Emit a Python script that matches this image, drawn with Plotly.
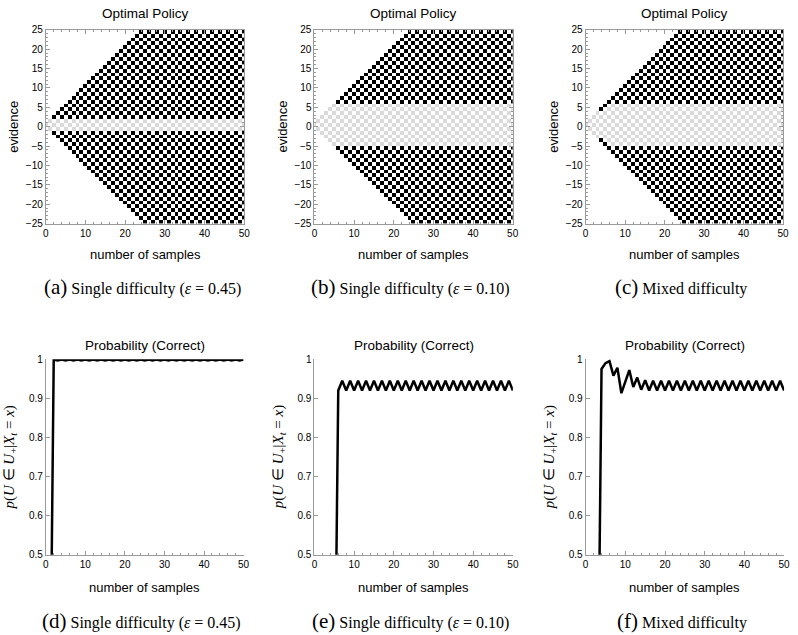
"""Optimal policy and probability correct (six panels)"""
import plotly.graph_objects as go

# policy grid: time steps and evidence levels
samples = list(range(0, 51))
evidence = list(range(-25, 25))

# stopping threshold per time step (|evidence| >= thr -> decide)
thr_a = [2] * 51
thr_b = [6] * 51
thr_c = [99, 99, 99, 99, 4, 5] + [6] * 45

# probability correct at the boundary
t_d = list(range(1, 51))
p_d = [0.0,
       0.999, 0.997, 0.999, 0.997, 0.999, 0.997, 0.999, 0.997, 0.999, 0.997,
       0.999, 0.997, 0.999, 0.997, 0.999, 0.997, 0.999, 0.997, 0.999, 0.997,
       0.999, 0.997, 0.999, 0.997, 0.999, 0.997, 0.999, 0.997, 0.999, 0.997,
       0.999, 0.997, 0.999, 0.997, 0.999, 0.997, 0.999, 0.997, 0.999, 0.997,
       0.999, 0.997, 0.999, 0.997, 0.999, 0.997, 0.999, 0.997, 0.999]

t_e = list(range(5, 51))
p_e = [0.0,
       0.92, 0.945, 0.92, 0.945, 0.92, 0.945, 0.92, 0.945, 0.92, 0.945,
       0.92, 0.945, 0.92, 0.945, 0.92, 0.945, 0.92, 0.945, 0.92, 0.945,
       0.92, 0.945, 0.92, 0.945, 0.92, 0.945, 0.92, 0.945, 0.92, 0.945,
       0.92, 0.945, 0.92, 0.945, 0.92, 0.945, 0.92, 0.945, 0.92, 0.945,
       0.92, 0.945, 0.92, 0.945, 0.92]

t_f = list(range(3, 51))
p_f = [0.0, 0.975, 0.99, 0.995, 0.958, 0.978, 0.913, 0.945, 0.972, 0.929,
       0.953, 0.922, 0.946, 0.92, 0.945, 0.92, 0.945, 0.92, 0.945, 0.92,
       0.945, 0.92, 0.945, 0.92, 0.945, 0.92, 0.945, 0.92, 0.945, 0.92,
       0.945, 0.92, 0.945, 0.92, 0.945, 0.92, 0.945, 0.92, 0.945, 0.92,
       0.945, 0.92, 0.945, 0.92, 0.945, 0.92, 0.945, 0.92]

captions_top = ["<span style='font-size:21px'>(a)</span> Single difficulty (<i>ε</i> = 0.45)",
                "<span style='font-size:21px'>(b)</span> Single difficulty (<i>ε</i> = 0.10)",
                "<span style='font-size:21px'>(c)</span> Mixed difficulty"]
captions_bot = ["<span style='font-size:21px'>(d)</span> Single difficulty (<i>ε</i> = 0.45)",
                "<span style='font-size:21px'>(e)</span> Single difficulty (<i>ε</i> = 0.10)",
                "<span style='font-size:21px'>(f)</span> Mixed difficulty"]

W, H = 798, 635
SANS = "Liberation Sans, Arial, sans-serif"
SERIF = "Liberation Serif, Times New Roman, serif"


def policy(thr):
    # 0 = unreachable, 1 = keep sampling, 2 = decide
    z = []
    for x in evidence:
        row = []
        for t in samples:
            if abs(x) > t or (x + t) % 2:
                row.append(0)
            elif abs(x) >= thr[t]:
                row.append(2)
            else:
                row.append(1)
        z.append(row)
    return z


def px_x(a, b):
    return [a / W, b / W]


def px_y(top, bottom):
    return [1 - bottom / H, 1 - top / H]


cols_top = [(43.3, 244), (315, 515.5), (589.3, 789)]
cols_bot = [(43.3, 243.3), (315, 515.7), (589.3, 790)]
row_top = (24.3, 221.7)
row_bot = (360, 559.3)

fig = go.Figure()

base = dict(showline=True, linecolor="#9a9a9a", linewidth=1, ticks="inside",
            ticklen=4, tickcolor="#9a9a9a", showgrid=False, zeroline=False,
            tickfont=dict(family=SANS, size=10, color="black"))

layout = dict(width=W, height=H, margin=dict(l=0, r=0, t=0, b=0),
              font=dict(family=SANS, color="black"),
              paper_bgcolor="white", plot_bgcolor="white", showlegend=False)

ann = []
for i, thr in enumerate([thr_a, thr_b, thr_c]):
    n = i + 1
    fig.add_trace(go.Heatmap(x=samples, y=[e + 0.5 for e in evidence], z=policy(thr),
                             zmin=0, zmax=2, showscale=False,
                             colorscale=[[0, "white"], [0.5, "#dadada"], [1, "black"]],
                             xaxis="x%d" % n, yaxis="y%d" % n, hoverinfo="skip"))
    layout["xaxis%d" % n] = dict(base, domain=px_x(*cols_top[i]), range=[0, 50], dtick=10,
                                 mirror="ticks", anchor="y%d" % n,
                                 minor=dict(ticks="inside", ticklen=2, dtick=2, tickcolor="#9a9a9a"))
    layout["yaxis%d" % n] = dict(base, domain=px_y(*row_top), range=[-25, 25], dtick=5,
                                 mirror="ticks", anchor="x%d" % n,
                                 minor=dict(ticks="inside", ticklen=2, dtick=1, tickcolor="#9a9a9a"))
    cx = (cols_top[i][0] + cols_top[i][1]) / 2 / W
    ann.append(dict(text="Optimal Policy", x=cx, y=1 - 8 / H, font=dict(family=SANS, size=13.5)))
    ann.append(dict(text="number of samples", x=cx, y=1 - 253 / H, font=dict(family=SANS, size=13)))
    ann.append(dict(text="evidence", x=(cols_top[i][0] - 32) / W, y=1 - 123 / H, textangle=-90,
                    font=dict(family=SANS, size=13)))
    ann.append(dict(text=captions_top[i], x=cx - 3 / W, y=1 - 286 / H,
                    font=dict(family=SERIF, size=16)))

for i, (t, p) in enumerate([(t_d, p_d), (t_e, p_e), (t_f, p_f)]):
    n = i + 4
    fig.add_trace(go.Scatter(x=t, y=p, mode="lines", line=dict(color="black", width=2.5),
                             xaxis="x%d" % n, yaxis="y%d" % n, hoverinfo="skip"))
    layout["xaxis%d" % n] = dict(base, domain=px_x(*cols_bot[i]), range=[0, 50], dtick=10,
                                 anchor="y%d" % n,
                                 minor=dict(ticks="inside", ticklen=2, dtick=2, tickcolor="#9a9a9a"))
    layout["yaxis%d" % n] = dict(base, domain=px_y(*row_bot), range=[0.5, 1], dtick=0.1,
                                 anchor="x%d" % n, tickformat=".1~f")
    cx = (cols_bot[i][0] + cols_bot[i][1]) / 2 / W
    ann.append(dict(text="Probability (Correct)", x=cx, y=1 - 346 / H, font=dict(family=SANS, size=13.5)))
    ann.append(dict(text="number of samples", x=cx, y=1 - 593 / H, font=dict(family=SANS, size=13)))
    ann.append(dict(text="<i>p</i>(<i>U</i> ∈ <i>U</i><sub>+</sub>|<i>X</i><sub><i>t</i></sub> = <i>x</i>)",
                    x=(cols_bot[i][0] - 36) / W, y=1 - 460 / H, textangle=-90,
                    font=dict(family=SERIF, size=15)))
    ann.append(dict(text=captions_bot[i], x=cx - 3 / W, y=1 - 627 / H,
                    font=dict(family=SERIF, size=16)))

for a in ann:
    a.update(xref="paper", yref="paper", showarrow=False, xanchor="center", yanchor="middle")
layout["annotations"] = ann

fig.update_layout(layout)
# the page's default body margin would shift the fixed-size figure
fig.write_html("out.html", config={"displayModeBar": False},
               post_script="document.body.style.margin='0';")
